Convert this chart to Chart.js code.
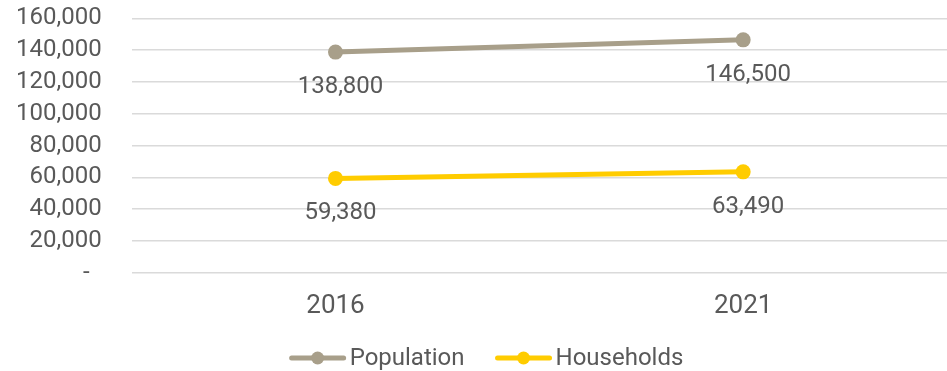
<!DOCTYPE html>
<html>
<head>
<meta charset="utf-8">
<script src="https://cdn.jsdelivr.net/npm/chart.js@4/dist/chart.umd.min.js"></script>
<style>
  html, body { margin: 0; padding: 0; background: #ffffff; }
  #wrap { width: 947px; height: 371px; }
</style>
</head>
<body>
<div id="wrap"><canvas id="chart" width="947" height="371"></canvas></div>
<script>
// Census years and counts
const years = ['2016', '2021'];
const population = [138800, 146500];
const households = [59380, 63490];
const yTicks = [0, 20000, 40000, 60000, 80000, 100000, 120000, 140000, 160000];

const TEXT = '#595959';
const FONT = 'Roboto, "Liberation Sans", Arial, sans-serif';
const fmt = v => v.toLocaleString('en-US');
// Accounting-style zero: a dash padded in from the right edge
const fmtTick = v => v === 0 ? '-  ' : fmt(v);

// Value labels under each point
const valueLabels = {
  id: 'valueLabels',
  afterDatasetsDraw(chart) {
    const ctx = chart.ctx;
    ctx.save();
    ctx.fillStyle = TEXT;
    ctx.font = '24px ' + FONT;
    ctx.textAlign = 'center';
    ctx.textBaseline = 'middle';
    chart.data.datasets.forEach((ds, i) => {
      chart.getDatasetMeta(i).data.forEach((pt, j) => {
        ctx.fillText(fmt(ds.data[j]), pt.x + 5, pt.y + 35);
      });
    });
    ctx.restore();
  }
};

// Legend row along the bottom: line with a dot, then the series name
const bottomLegend = {
  id: 'bottomLegend',
  afterDraw(chart) {
    const ctx = chart.ctx;
    ctx.save();
    ctx.font = '24px ' + FONT;
    ctx.textBaseline = 'middle';
    ctx.textAlign = 'left';
    const y = 358;
    const lineW = 56, gap = 4, itemGap = 31;
    const items = chart.data.datasets.map(ds => ({
      ds, w: lineW + gap + ctx.measureText(ds.label).width
    }));
    const total = items.reduce((s, it) => s + it.w, 0) + itemGap * (items.length - 1);
    let x = chart.width / 2 + 13 - total / 2;
    items.forEach(it => {
      ctx.strokeStyle = it.ds.borderColor;
      ctx.lineWidth = 5;
      ctx.lineCap = 'round';
      ctx.beginPath();
      ctx.moveTo(x + 2, y);
      ctx.lineTo(x + lineW - 2, y);
      ctx.stroke();
      ctx.fillStyle = it.ds.borderColor;
      ctx.beginPath();
      ctx.arc(x + lineW / 2, y, 6.5, 0, Math.PI * 2);
      ctx.fill();
      ctx.fillStyle = TEXT;
      ctx.fillText(it.ds.label, x + lineW + gap, y + 1);
      x += it.w + itemGap;
    });
    ctx.restore();
  }
};

new Chart(document.getElementById('chart'), {
  type: 'line',
  data: {
    labels: years,
    datasets: [
      {
        label: 'Population',
        data: population,
        borderColor: '#a89f8a',
        backgroundColor: '#a89f8a',
        borderWidth: 5,
        pointRadius: 7.5,
        pointHoverRadius: 7.5,
        pointBorderWidth: 0
      },
      {
        label: 'Households',
        data: households,
        borderColor: '#ffcc00',
        backgroundColor: '#ffcc00',
        borderWidth: 5,
        pointRadius: 7.5,
        pointHoverRadius: 7.5,
        pointBorderWidth: 0
      }
    ]
  },
  options: {
    responsive: false,
    animation: false,
    layout: { autoPadding: false, padding: { top: 1, right: 0, bottom: 31, left: 12 } },
    plugins: {
      legend: { display: false },
      tooltip: { enabled: false }
    },
    scales: {
      x: {
        offset: true,
        grid: { display: false, drawTicks: false },
        border: { display: false },
        ticks: { color: TEXT, font: { size: 26, family: FONT }, padding: 18, autoSkip: false, maxRotation: 0 }
      },
      y: {
        min: 0,
        max: 160000,
        afterBuildTicks(scale) { scale.ticks = yTicks.map(v => ({ value: v })); },
        grid: { color: '#dadada', lineWidth: 1.5, drawTicks: true, tickLength: 26, tickColor: 'rgba(0,0,0,0)' },
        border: { display: false },
        ticks: {
          color: TEXT,
          font: { size: 24, family: FONT },
          padding: 4,
          autoSkip: false,
          callback: v => fmtTick(v)
        }
      }
    }
  },
  plugins: [valueLabels, bottomLegend]
});
</script>
</body>
</html>
